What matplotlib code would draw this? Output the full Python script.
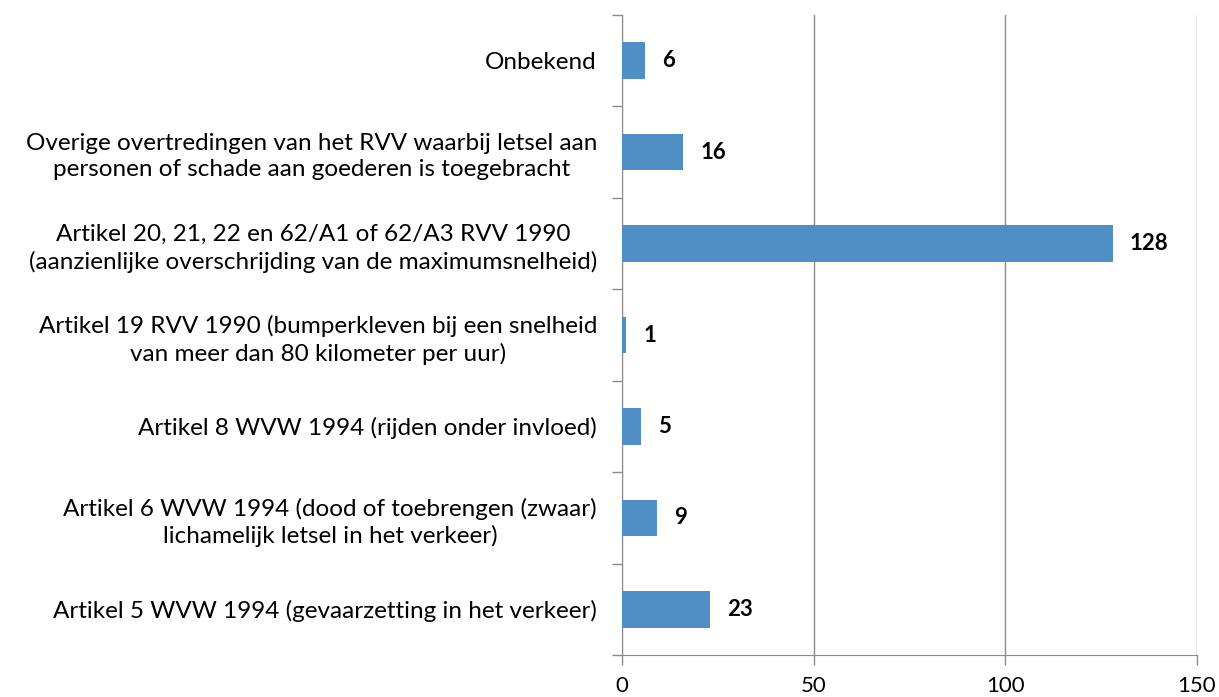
import numpy as np
import matplotlib.pyplot as plt
from matplotlib.ticker import FixedLocator

plt.rcParams['font.family'] = ['Lato', 'DejaVu Sans']

categories = [
    'Artikel 5 WVW 1994 (gevaarzetting in het verkeer)',
    'Artikel 6 WVW 1994 (dood of toebrengen (zwaar)\nlichamelijk letsel in het verkeer)',
    'Artikel 8 WVW 1994 (rijden onder invloed)',
    'Artikel 19 RVV 1990 (bumperkleven bij een snelheid\nvan meer dan 80 kilometer per uur)',
    'Artikel 20, 21, 22 en 62/A1 of 62/A3 RVV 1990\n(aanzienlijke overschrijding van de maximumsnelheid)',
    'Overige overtredingen van het RVV waarbij letsel aan\npersonen of schade aan goederen is toegebracht',
    'Onbekend',
]
values = [23, 9, 5, 1, 128, 16, 6]
x_ticks = [0, 50, 100, 150]

fig = plt.figure(figsize=(12.19, 6.97), dpi=100)
ax = fig.add_axes([622 / 1219, 1 - 655 / 697, 575 / 1219, 640 / 697])

y = np.arange(len(categories))
ax.barh(y, values, height=0.4, color='#4f8fc6', zorder=3)

for yi, v in zip(y, values):
    ax.annotate(str(v), (v, yi), xytext=(12.5, 0), textcoords='offset points',
                va='center', ha='left', fontsize=16, fontweight='bold', color='black')

ax.set_xlim(0, 150)
ax.set_ylim(-0.5, len(categories) - 0.5)
ax.set_xticks(x_ticks)
ax.set_xticklabels([str(t) for t in x_ticks], fontsize=16)
ax.set_yticks(y)
ax.set_yticklabels(categories, fontsize=17.5, linespacing=1.3, multialignment='center')
ax.yaxis.set_minor_locator(FixedLocator(np.arange(-0.5, len(categories), 1)))
ax.tick_params(axis='y', which='major', length=0, pad=18)
ax.tick_params(axis='y', which='minor', length=7, color='#8c8c8c', width=1)
ax.tick_params(axis='x', length=7, color='#8c8c8c', width=1, pad=8)

ax.grid(axis='x', color='#8c8c8c', linewidth=1, zorder=0)
for side in ['top', 'right']:
    ax.spines[side].set_visible(False)
for side in ['left', 'bottom']:
    ax.spines[side].set_color('#8c8c8c')

fig.savefig('out.png', dpi=100)
